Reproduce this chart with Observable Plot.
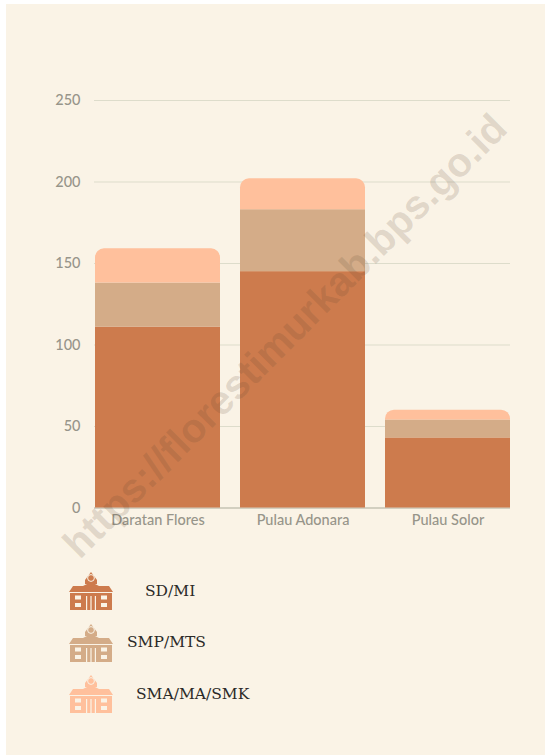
<!DOCTYPE html>
<html><head><meta charset="utf-8">
<script src="https://cdn.jsdelivr.net/npm/d3@7"></script>
<script src="https://cdn.jsdelivr.net/npm/@observablehq/plot@0.6"></script>
<style>
html,body{margin:0;padding:0;background:#fff;}
#page{position:absolute;left:6px;top:4px;width:539px;height:751px;background:#FAF3E6;overflow:hidden;}
#chart{position:absolute;left:-6px;top:-4px;}
.leg{position:absolute;font-family:"DejaVu Serif",serif;font-size:15.5px;color:#2b2a28;white-space:nowrap;line-height:20px;}
.ico{position:absolute;width:44px;height:38px;}
#wm{position:absolute;left:279px;top:332px;transform:translate(-50%,-50%) rotate(-45deg);font-family:"Liberation Sans",sans-serif;font-weight:700;font-size:40.5px;color:rgba(90,70,50,.17);white-space:nowrap;pointer-events:none;}
</style></head><body>
<div id="page"><div id="chart"></div></div>
<script>
const regions = ["Daratan Flores","Pulau Adonara","Pulau Solor"];
const sd  = [111,145,43];
const smp = [27,38,11];
const sma = [21,19,6];
const levels = ["SD/MI","SMP/MTS","SMA/MA/SMK"];
const colors = ["#CD7B4D","#D4AC88","#FFC09C"];
const yTicks = [0,50,100,150,200,250];
const labelLeft = [145,127,136];

const rows = regions.map((r,i)=>({r,
  a0:0,a1:sd[i],
  b0:sd[i],b1:sd[i]+smp[i],
  c0:sd[i]+smp[i],c1:sd[i]+smp[i]+sma[i]}));

const plot = Plot.plot({
  width:545,height:560,
  marginLeft:94,marginRight:35,marginTop:100,marginBottom:52.5,
  style:{background:"transparent",fontFamily:"Lato, sans-serif",overflow:"visible"},
  x:{domain:regions,paddingInner:0.14,paddingOuter:0,label:null},
  y:{domain:[0,250],label:null},
  marks:[
    Plot.gridY(yTicks,{stroke:"#DDDCCB",strokeOpacity:1,strokeWidth:1}),
    Plot.axisY({ticks:yTicks,tickSize:0,tickPadding:14,label:null,fontSize:14.5,fill:"#97958a",fontWeight:500,letterSpacing:"0.6px"}),
    Plot.ruleY([0],{stroke:"#B9B7A8"}),
    Plot.rectY(rows,{x:"r",y1:"a0",y2:"a1",fill:colors[0]}),
    Plot.rectY(rows,{x:"r",y1:"b0",y2:"b1",fill:colors[1]}),
    Plot.rectY(rows,{x:"r",y1:"c0",y2:"c1",fill:colors[2],ry2:9}),
    Plot.axisX({tickSize:0,tickPadding:7,label:null,fontSize:14.5,fill:"#97958a",fontWeight:500,letterSpacing:"0.6px"})
  ]
});
document.getElementById("chart").appendChild(plot);

const page=document.getElementById("page");
const icon=c=>`<svg class="ico" viewBox="0 0 44 38" xmlns="http://www.w3.org/2000/svg" fill="${c}">
<path d="M16 8 L22 0 L28 8 V12 H16Z"/><circle cx="22" cy="6" r="3.4" fill="none" stroke="#FAF3E6" stroke-width="1"/>
<path d="M4 14 H14 L22 10 L30 14 H40 L44 20 H0Z"/>
<rect x="1" y="21" width="42" height="17"/>
<g fill="#FAF3E6"><rect x="6" y="23.5" width="6" height="4"/><rect x="6" y="31" width="6" height="4"/><rect x="32" y="23.5" width="6" height="4"/><rect x="32" y="31" width="6" height="4"/>
<rect x="17" y="24" width="1.2" height="14"/><rect x="21.4" y="24" width="1.2" height="14"/><rect x="25.8" y="24" width="1.2" height="14"/><rect x="14" y="20" width="16" height="1"/></g></svg>`;
levels.forEach((l,i)=>{
  const top=[569,620.5,672][i];
  const w=document.createElement("div");
  w.innerHTML=icon(colors[i]);
  const s=w.firstChild; s.style.left=(69-6)+"px"; s.style.top=(top+3-4)+"px";
  page.appendChild(s);
  const d=document.createElement("div");
  d.className="leg"; d.textContent=l;
  d.style.left=(labelLeft[i]-6)+"px"; d.style.top=([581,632,684][i]-4)+"px";
  page.appendChild(d);
});
const wm=document.createElement("div");wm.id="wm";wm.textContent="https://florestimurkab.bps.go.id";page.appendChild(wm);
</script></body></html>
